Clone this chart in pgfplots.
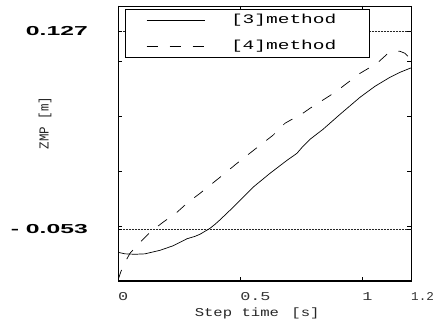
\documentclass[border=0pt]{standalone}
\usepackage{graphicx}
\usepackage{fontspec}
\setmainfont{Liberation Mono}
\newfontfamily\lsans{Liberation Sans}
\usepackage{pgfplots}
\pgfplotsset{compat=1.18}
\newcommand\sx[2][1.4]{\scalebox{#1}[1]{#2}}
\newcommand\biglab[1]{{\lsans\bfseries\fontsize{13}{15}\selectfont\sx[1.9]{#1}}}

\pgfplotstableread{
x y
0 -0.0739
0.0287 -0.0753
0.0696 -0.0757
0.1106 -0.0753
0.172 -0.0721
0.2252 -0.068
0.2826 -0.0616
0.3153 -0.0594
0.3358 -0.0575
0.3563 -0.0548
0.3768 -0.0521
0.3972 -0.0485
0.4177 -0.0444
0.4587 -0.0357
0.4997 -0.0266
0.5529 -0.0148
0.6225 -0.0021
0.6921 0.0097
0.7331 0.0161
0.7577 0.0225
0.7863 0.0288
0.8396 0.0379
0.9092 0.0515
0.9911 0.067
1.0525 0.077
1.1139 0.0852
1.1549 0.0897
1.1959 0.0934
1.2 0.0936
}\methodA

\pgfplotstableread{
x y
0 -0.0994
0.0123 -0.0912
0.0287 -0.083
0.0491 -0.0748
0.0901 -0.0648
0.1311 -0.0557
0.1843 -0.0466
0.2416 -0.0375
0.2867 -0.0285
0.3358 -0.0203
0.4177 -0.0057
0.4874 0.007
0.5816 0.0234
0.6348 0.0325
0.6839 0.0434
0.7126 0.047
0.7331 0.0488
0.7863 0.057
0.8887 0.0715
0.9911 0.0888
1.0607 0.0979
1.1058 0.107
1.1344 0.1088
1.1549 0.1088
1.1754 0.107
1.2 0.1015
}\methodB

\begin{document}
\begin{tikzpicture}
\path[use as bounding box] (-118pt,-43pt) rectangle (317pt,281pt);
\begin{axis}[
  at={(0,0)}, anchor=south west,
  scale only axis, width=293pt, height=275pt,
  xmin=0, xmax=1.2, ymin=-0.1, ymax=0.15,
  axis line style={line width=0.8pt, black},
  tick align=inside, major tick length=4pt,
  tick style={black, line width=0.6pt},
  xtick={0,0.5,1,1.2},
  xticklabels={\sx{0},\sx{0.5},\sx{1},\sx[1.05]{1.2}},
  xticklabel style={anchor=north west, inner sep=0pt, yshift=-11pt, text=black!80, font=\fontsize{12}{14}\selectfont},
  ytick={-0.05,0,0.05,0.1},
  yticklabels={,,,},
  extra y ticks={-0.053,0.127},
  extra y tick labels={\biglab{- 0.053},\biglab{0.127}},
  extra y tick style={
    grid=major,
    major grid style={black!85, line width=0.5pt, dash pattern=on 0.6pt off 0.9pt},
    yticklabel style={anchor=east, inner sep=0pt, xshift=-30pt, text=black}},
  xlabel={\sx[1.3]{Step time\hspace{0.8em}[s]}},
  xlabel style={font=\fontsize{12}{14}\selectfont, text=black!85, at={(axis description cs:0.475,-0.116)}, anchor=center},
  ylabel={\scalebox{1}[1.1]{ZMP [m]}},
  ylabel style={font=\fontsize{12.5}{14}\selectfont, text=black!85, at={(axis description cs:-0.249,0.575)}, anchor=center, rotate=0},
  legend image code/.code={\draw[#1] (0pt,0pt) -- (58pt,0pt);},
  legend cell align=left,
  legend style={at={(axis description cs:0.0239,0.989)}, anchor=north west,
    draw=black, line width=0.6pt, fill=white,
    font=\fontsize{13}{15}\selectfont,
    inner xsep=21pt, inner ysep=5pt,
    nodes={inner sep=0pt, text height=9pt, text depth=3pt},
    row sep=14pt, column sep=26pt},
]
\addplot[black, line width=0.7pt, solid] table[x=x,y=y] {\methodA};
\addlegendentry{\sx[1.5]{[3]method}\hspace*{12pt}}
\addplot[black, line width=0.7pt, dash pattern=on 11pt off 12pt] table[x=x,y=y] {\methodB};
\addlegendentry{\sx[1.5]{[4]method}\hspace*{12pt}}
\draw[line width=1.4pt, black] (rel axis cs:0,1) -- (rel axis cs:0,0) -- (rel axis cs:1,0);
\end{axis}
\end{tikzpicture}
\end{document}
